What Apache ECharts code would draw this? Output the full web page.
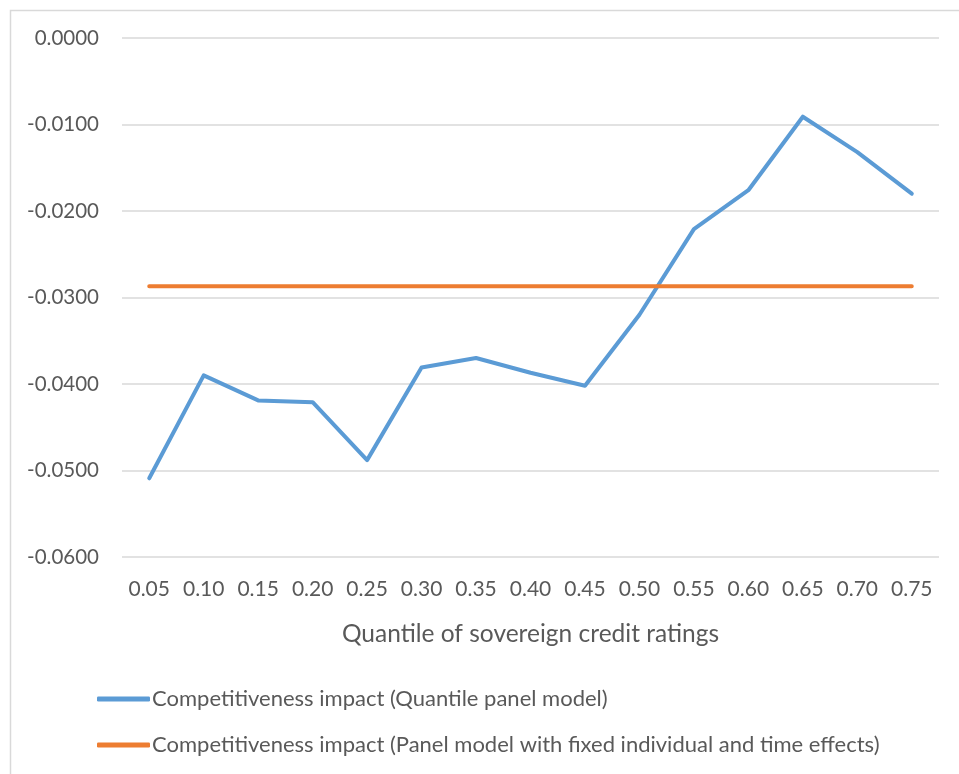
<!DOCTYPE html>
<html>
<head>
<meta charset="utf-8">
<script src="https://cdn.jsdelivr.net/npm/echarts@6/dist/echarts.min.js"></script>
<style>
  html, body { margin: 0; padding: 0; background: #fff; }
  #chart { width: 959px; height: 774px; }
</style>
</head>
<body>
<div id="chart"></div>
<script>
// quantiles on the x axis
var quantiles = ['0.05', '0.10', '0.15', '0.20', '0.25', '0.30', '0.35', '0.40',
  '0.45', '0.50', '0.55', '0.60', '0.65', '0.70', '0.75'];
// quantile panel model estimates
var quantileImpact = [-0.0509, -0.0390, -0.0419, -0.0421, -0.0488, -0.0381, -0.0370,
  -0.0387, -0.0402, -0.0320, -0.0221, -0.0176, -0.0091, -0.0132, -0.0180];
// fixed effects panel estimate (same value at every quantile)
var panelImpact = [-0.0287, -0.0287, -0.0287, -0.0287, -0.0287, -0.0287, -0.0287,
  -0.0287, -0.0287, -0.0287, -0.0287, -0.0287, -0.0287, -0.0287, -0.0287];
var seriesNames = [
  'Competitiveness impact (Quantile panel model)',
  'Competitiveness impact (Panel model with fixed individual and time effects)'
];

var textColor = '#595959';
var font = 'Lato, "Open Sans", sans-serif';

var chart = echarts.init(document.getElementById('chart'));
chart.setOption({
  animation: false,
  backgroundColor: '#fff',
  graphic: [{
    type: 'rect',
    left: 8, top: 8,
    shape: { width: 1000, height: 1000 },
    style: { fill: 'none', stroke: '#d9d9d9', lineWidth: 1.5 },
    silent: true
  }],
  grid: { left: 122, right: 20, top: 38, bottom: 217 },
  legend: {
    orient: 'vertical',
    left: 92,
    top: 683,
    itemGap: 24,
    itemWidth: 53,
    itemHeight: 5,
    icon: 'roundRect',
    textStyle: { color: textColor, fontSize: 22, fontFamily: font, padding: [0, 0, 0, -3] },
    data: seriesNames
  },
  xAxis: {
    type: 'category',
    data: quantiles,
    boundaryGap: true,
    name: 'Quantile of sovereign credit ratings',
    nameLocation: 'middle',
    nameGap: 65,
    nameTextStyle: { color: textColor, fontSize: 24.5, fontFamily: font },
    axisLine: { show: false },
    axisTick: { show: false },
    axisLabel: { color: textColor, fontSize: 21, fontFamily: font, margin: 22 }
  },
  yAxis: {
    type: 'value',
    min: -0.06,
    max: 0,
    interval: 0.01,
    axisLine: { show: false },
    axisTick: { show: false },
    splitLine: { lineStyle: { color: '#d9d9d9', width: 1.5 } },
    axisLabel: {
      color: textColor, fontSize: 20.5, fontFamily: font, margin: 23,
      formatter: function (v) { return v.toFixed(4); }
    }
  },
  series: [
    {
      name: seriesNames[0],
      type: 'line',
      data: quantileImpact,
      color: '#5B9BD5',
      symbol: 'none',
      lineStyle: { width: 4, cap: 'round', join: 'round' }
    },
    {
      name: seriesNames[1],
      type: 'line',
      data: panelImpact,
      color: '#ED7D31',
      symbol: 'none',
      lineStyle: { width: 4, cap: 'round' }
    }
  ]
});
</script>
</body>
</html>
